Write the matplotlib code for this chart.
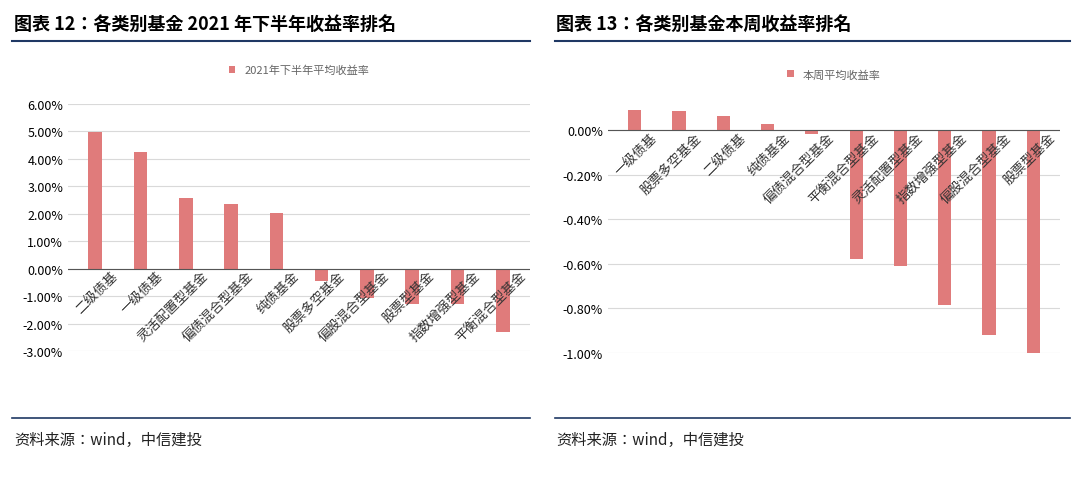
import numpy as np
import matplotlib.pyplot as plt
from matplotlib.ticker import FuncFormatter
from matplotlib.lines import Line2D

plt.rcParams['font.family'] = ['Noto Sans CJK JP', 'Noto Sans CJK SC', 'Noto Sans CJK TC',
                               'Noto Sans CJK KR', 'DejaVu Sans']

left_cats = ['二级债基', '一级债基', '灵活配置型基金', '偏债混合型基金', '纯债基金',
             '股票多空基金', '偏股混合型基金', '股票型基金', '指数增强型基金', '平衡混合型基金']
left_vals = [4.99, 4.24, 2.56, 2.35, 2.02, -0.46, -1.06, -1.27, -1.28, -2.29]

right_cats = ['一级债基', '股票多空基金', '二级债基', '纯债基金', '偏债混合型基金',
              '平衡混合型基金', '灵活配置型基金', '指数增强型基金', '偏股混合型基金', '股票型基金']
right_vals = [0.092, 0.086, 0.065, 0.026, -0.015, -0.578, -0.608, -0.785, -0.918, -1.0]

W, H = 1080, 481
fig = plt.figure(figsize=(10.8, 4.81), dpi=100)
bar_c = '#E07B7B'
pct = FuncFormatter(lambda v, p: f'{v:.2f}%')


def panel(rect, cats, vals, ylim, ticks, legend, title, tx, lx0, lx1):
    l, t, r, b = rect
    ax = fig.add_axes([l / W, 1 - b / H, (r - l) / W, (b - t) / H])
    x = range(len(cats))
    ax.bar(x, vals, width=0.3, color=bar_c, label=legend)
    ax.set_ylim(*ylim)
    ax.set_xlim(-0.6, len(cats) - 0.4)
    ax.set_yticks(ticks)
    ax.yaxis.set_major_formatter(pct)
    ax.grid(axis='y', color='#D9D9D9', lw=0.8)
    ax.set_axisbelow(True)
    for s in ax.spines.values():
        s.set_visible(False)
    ax.axhline(0, color='#555555', lw=0.8)
    ax.tick_params(axis='y', length=0, labelsize=9)
    ax.set_xticks([])
    for i, c in enumerate(cats):
        ax.text(i + 0.35, 0, c, rotation=45, ha='right', va='top',
                fontsize=9.5, color='#333333', rotation_mode='anchor')
    ax.legend(loc='upper center', bbox_to_anchor=(0.5, 1.2), frameon=False,
              fontsize=8, handlelength=0.6, handleheight=0.6, labelcolor='#666666')
    fig.text(tx / W, 1 - 24 / H, title, fontsize=13, fontweight='bold', va='center')
    fig.add_artist(Line2D([lx0 / W, lx1 / W], [1 - 42 / H] * 2, color='#1F3864', lw=1.5))
    fig.add_artist(Line2D([lx0 / W, lx1 / W], [1 - 419 / H] * 2, color='#1F3864', lw=1.2))
    fig.text(tx / W, 1 - 440 / H, '资料来源：wind，中信建投', fontsize=11,
             style='italic', va='center', color='#222222')
    return ax


panel((68, 105, 530, 352), left_cats, left_vals, (-3, 6), np.arange(-3, 6.01, 1),
      '2021年下半年平均收益率', '图表 12：各类别基金 2021 年下半年收益率排名', 14, 12, 530)
panel((608, 109, 1060, 354), right_cats, right_vals, (-1.0, 0.1),
      [-1.0, -0.8, -0.6, -0.4, -0.2, 0.0],
      '本周平均收益率', '图表 13：各类别基金本周收益率排名', 556, 555, 1070)

fig.savefig('out.png', dpi=100, facecolor='white')
